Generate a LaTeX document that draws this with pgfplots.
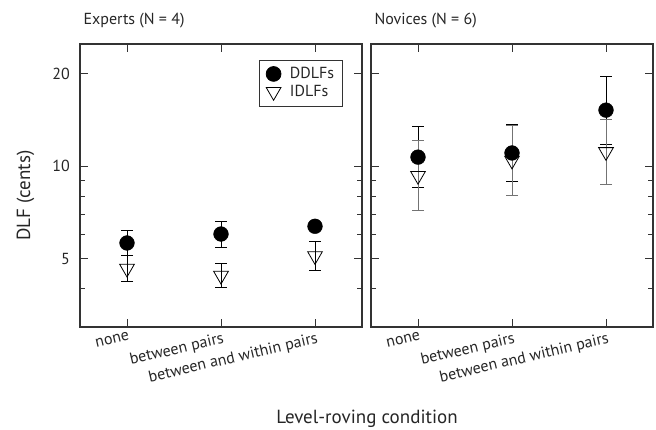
\documentclass[border=0pt]{standalone}
\usepackage{pgfplots}
\pgfplotsset{compat=1.18}
\usepackage{pgfplotstable}
\usepackage{fontspec}
\setmainfont{PT Sans}

% x  y  plus  minus  (cents, error bars)
\pgfplotstableread{
x y ep em
1 5.63 0.56 0.49
2 6.02 0.62 0.57
3 6.38 0.17 0.18
}\expdd
\pgfplotstableread{
x y ep em
1 4.65 0.49 0.43
2 4.41 0.43 0.39
3 5.11 0.59 0.53
}\expid
\pgfplotstableread{
x y ep em
1 10.71 2.77 2.20
2 11.05 2.67 2.15
3 15.23 4.41 3.43
}\novdd
\pgfplotstableread{
x y ep em
1 9.32 2.78 2.14
2 10.45 3.10 2.39
3 11.14 3.03 2.39
}\novid

\begin{document}
\begin{tikzpicture}
\useasboundingbox (0,0) rectangle (656pt,430pt);

\begin{axis}[at={(80pt,103pt)}, anchor=south west,
  scale only axis, width=282pt, height=283pt,
  xmin=0.5, xmax=3.5, ymode=log, ymin=3, ymax=25,
  xtick={1,2,3},
  xticklabels={none, between pairs, between and within pairs},
  x tick label style={rotate=13, anchor=north east, inner sep=0pt, yshift=-5pt,
    font=\fontsize{16}{16}\selectfont, text=black!85},
  ytick={5,10,20}, yticklabels={5,10,20}, minor ytick={4,6,7,8,9},
  y tick label style={inner sep=0pt, xshift=-10pt, font=\fontsize{16}{16}\selectfont, text=black!85},
  tick align=inside, major tick length=8pt, minor tick length=5pt,
  axis line style={line width=1.1pt, black!80},
  tick style={line width=0.8pt, black!80},
  title style={at={(0,1)}, anchor=base west, yshift=13pt,
    font=\fontsize{16}{16}\selectfont, text=black!85},
  title={Experts (N = 4)},
  legend style={at={(0.634,0.943)}, anchor=north west, draw=black!80, line width=0.8pt,
    font=\fontsize{16}{16}\selectfont, text=black!85, inner xsep=7pt, inner ysep=6pt,
    nodes={inner sep=1pt}, row sep=3pt, column sep=8pt},
  legend cell align=left,
]
\addplot[only marks, mark=*, mark size=7.4pt, mark options={fill=black, draw=black},
  error bars/.cd, y dir=both, y explicit,
  error bar style={line width=0.9pt, black},
  error mark options={rotate=90, mark size=6pt, line width=0.9pt, black}]
  table[y error plus=ep, y error minus=em] {\expdd};
\addlegendentry{DDLFs}
\addplot[only marks, mark=triangle, mark size=8.5pt,
  mark options={rotate=180, fill=white, draw=black, line width=0.8pt},
  error bars/.cd, y dir=both, y explicit,
  error bar style={line width=0.9pt, black},
  error mark options={rotate=90, mark size=6pt, line width=0.9pt, black}]
  table[y error plus=ep, y error minus=em] {\expid};
\addlegendentry{IDLFs}
\end{axis}

\begin{axis}[at={(371pt,103pt)}, anchor=south west,
  scale only axis, width=282pt, height=283pt,
  xmin=0.5, xmax=3.5, ymode=log, ymin=3, ymax=25,
  xtick={1,2,3},
  xticklabels={none, between pairs, between and within pairs},
  x tick label style={rotate=13, anchor=north east, inner sep=0pt, yshift=-5pt,
    font=\fontsize{16}{16}\selectfont, text=black!85},
  ytick={5,10,20}, yticklabels={}, minor ytick={4,6,7,8,9},
  tick align=inside, major tick length=8pt, minor tick length=5pt,
  axis line style={line width=1.1pt, black!80},
  tick style={line width=0.8pt, black!80},
  title style={at={(0,1)}, anchor=base west, yshift=13pt,
    font=\fontsize{16}{16}\selectfont, text=black!85},
  title={Novices (N = 6)},
]
\addplot[only marks, mark=*, mark size=7.4pt, mark options={fill=black, draw=black},
  error bars/.cd, y dir=both, y explicit,
  error bar style={line width=0.9pt, black},
  error mark options={rotate=90, mark size=6pt, line width=0.9pt, black}]
  table[y error plus=ep, y error minus=em] {\novdd};
\addplot[only marks, mark=triangle, mark size=8.5pt,
  mark options={rotate=180, fill=white, draw=black, line width=0.8pt},
  error bars/.cd, y dir=both, y explicit,
  error bar style={line width=0.9pt, black!55},
  error mark options={rotate=90, mark size=6pt, line width=0.9pt, black!55}]
  table[y error plus=ep, y error minus=em] {\novid};
\end{axis}

\node[rotate=90, anchor=base, font=\fontsize{19}{19}\selectfont, text=black!85] at (30pt,234.5pt) {DLF (cents)};
\node[anchor=base, font=\fontsize{19}{19}\selectfont, text=black!85] at (367pt,6pt) {Level-roving condition};
\end{tikzpicture}
\end{document}
